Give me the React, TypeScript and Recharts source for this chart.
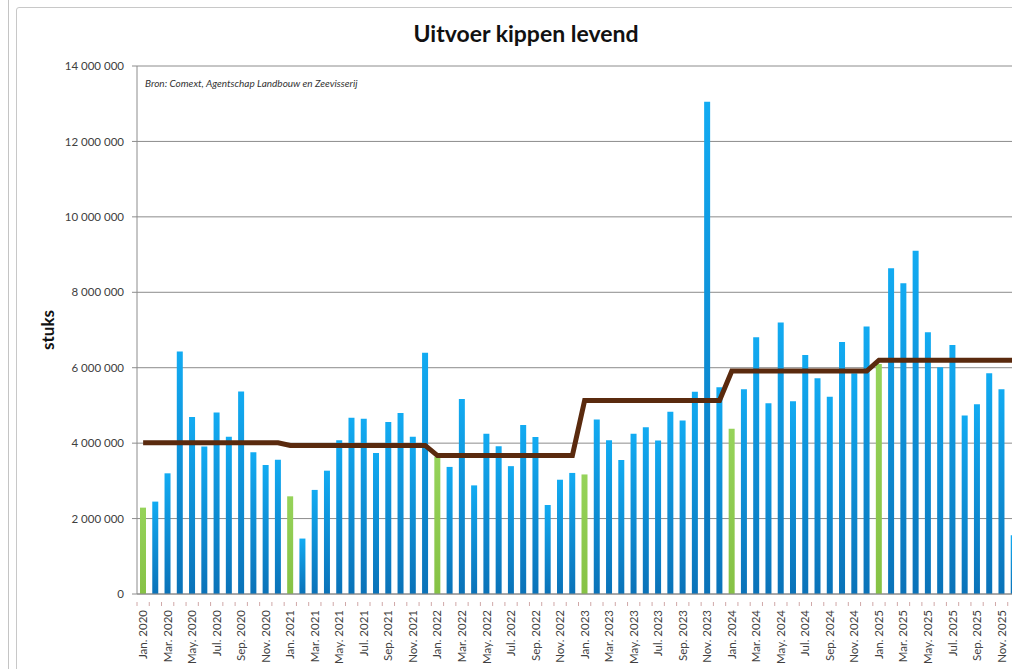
import React from 'react';
import { ComposedChart, Bar, Line, XAxis, YAxis, CartesianGrid, Cell } from 'recharts';

const monthNames = ['Jan.', 'Feb.', 'Mar.', 'Apr.', 'May.', 'Jun.', 'Jul.', 'Aug.', 'Sep.', 'Oct.', 'Nov.', 'Dec.'];
const years = [2020, 2021, 2022, 2023, 2024, 2025];

const values2020 = [2290000, 2450000, 3200000, 6430000, 4690000, 3910000, 4810000, 4170000, 5370000, 3760000, 3420000, 3560000];
const values2021 = [2590000, 1470000, 2760000, 3270000, 4080000, 4670000, 4650000, 3740000, 4560000, 4800000, 4170000, 6400000];
const values2022 = [3640000, 3370000, 5170000, 2880000, 4250000, 3920000, 3390000, 4480000, 4160000, 2360000, 3030000, 3210000];
const values2023 = [3170000, 4630000, 4080000, 3550000, 4250000, 4420000, 4070000, 4830000, 4600000, 5360000, 13050000, 5480000];
const values2024 = [4380000, 5430000, 6810000, 5060000, 7200000, 5110000, 6340000, 5720000, 5230000, 6680000, 5850000, 7090000];
const values2025 = [6100000, 8640000, 8240000, 9100000, 6940000, 6010000, 6600000, 4730000, 5030000, 5850000, 5430000, 1560000];

const yearlyAverages = [4010000, 3940000, 3670000, 5130000, 5910000, 6200000];
const yTicks = [0, 2000000, 4000000, 6000000, 8000000, 10000000, 12000000, 14000000];

const valuesByYear = [values2020, values2021, values2022, values2023, values2024, values2025];

const data = years.flatMap((yr, yi) =>
  monthNames.map((m, mi) => ({
    label: `${m} ${yr}`,
    value: valuesByYear[yi][mi],
    avg: yearlyAverages[yi],
    isJan: mi === 0,
  }))
);

const fmt = (v: number) => String(v).replace(/\B(?=(\d{3})+(?!\d))/g, ' ');

const XTick = (props: any) => {
  const { x, y, payload, index } = props;
  const off = payload.offset || 6.13;
  return (
    <g transform={`translate(${x},${y})`}>
      <line x1={-off} x2={-off} y1={0} y2={4} stroke="#d0a8a8" strokeWidth={1} />
      {index % 2 === 0 && (
        <text transform="rotate(-90)" x={-8} y={4} textAnchor="end" fontSize={11.5} fill="#404040" fontFamily="Lato">
          {payload.value}
        </text>
      )}
    </g>
  );
};

export default function App() {
  return (
    <div style={{ position: 'fixed', left: 0, top: 0, width: 1012, height: 669, overflow: 'hidden', background: '#fff', fontFamily: 'Lato' }}>
      <div style={{ position: 'absolute', left: 8, top: 0, width: 1, height: 669, background: '#c4c4c4' }} />
      <div style={{ position: 'absolute', left: 16, top: 7, width: 1100, height: 800, border: '1.5px solid #c8c8c8', borderRadius: 3 }} />
      <div style={{ position: 'absolute', left: 0, top: 0, width: 1020, height: 669 }}>
        <ComposedChart width={1020} height={669} data={data} margin={{ top: 66, right: 0, bottom: 0, left: 0 }} barSize={6}>
          <defs>
            <linearGradient id="blueGrad" x1="0" y1="0" x2="0" y2="1">
              <stop offset="0%" stopColor="#12abf2" />
              <stop offset="100%" stopColor="#0a72b8" />
            </linearGradient>
            <linearGradient id="greenGrad" x1="0" y1="0" x2="0" y2="1">
              <stop offset="0%" stopColor="#96d35a" />
              <stop offset="100%" stopColor="#86c245" />
            </linearGradient>
          </defs>
          <CartesianGrid vertical={false} stroke="#8c8c8c" strokeWidth={1} />
          <XAxis
            dataKey="label"
            interval={0}
            height={75}
            tick={<XTick />}
            tickLine={false}
            axisLine={{ stroke: '#8c8c8c' }}
          />
          <YAxis
            domain={[0, 14000000]}
            ticks={yTicks}
            width={137}
            tickSize={5}
            tickMargin={8}
            tickFormatter={fmt}
            tickLine={{ stroke: '#8c8c8c' }}
            axisLine={{ stroke: '#8c8c8c' }}
            tick={{ fontSize: 11.5, fill: '#404040', fontFamily: 'Lato' }}
            interval={0}
          />
          <Bar dataKey="value" isAnimationActive={false}>
            {data.map((d, i) => (
              <Cell key={i} fill={d.isJan ? 'url(#greenGrad)' : 'url(#blueGrad)'} />
            ))}
          </Bar>
          <Line
            dataKey="avg"
            type="linear"
            stroke="#5a2a0e"
            strokeWidth={5}
            dot={false}
            activeDot={false}
            isAnimationActive={false}
          />
        </ComposedChart>
      </div>
      <div style={{ position: 'absolute', left: 0, width: 1052, top: 18, textAlign: 'center', fontSize: 23, fontWeight: 700, color: '#111', lineHeight: '30px' }}>
        Uitvoer kippen levend
      </div>
      <div style={{ position: 'absolute', left: 145, top: 77, fontSize: 10, fontStyle: 'italic', color: '#333', whiteSpace: 'nowrap' }}>
        Bron: Comext, Agentschap Landbouw en Zeevisserij
      </div>
      <div style={{ position: 'absolute', left: 47, top: 330, transform: 'translate(-50%, -50%) rotate(-90deg)', fontSize: 17, fontWeight: 700, color: '#111', whiteSpace: 'nowrap' }}>
        stuks
      </div>
    </div>
  );
}
